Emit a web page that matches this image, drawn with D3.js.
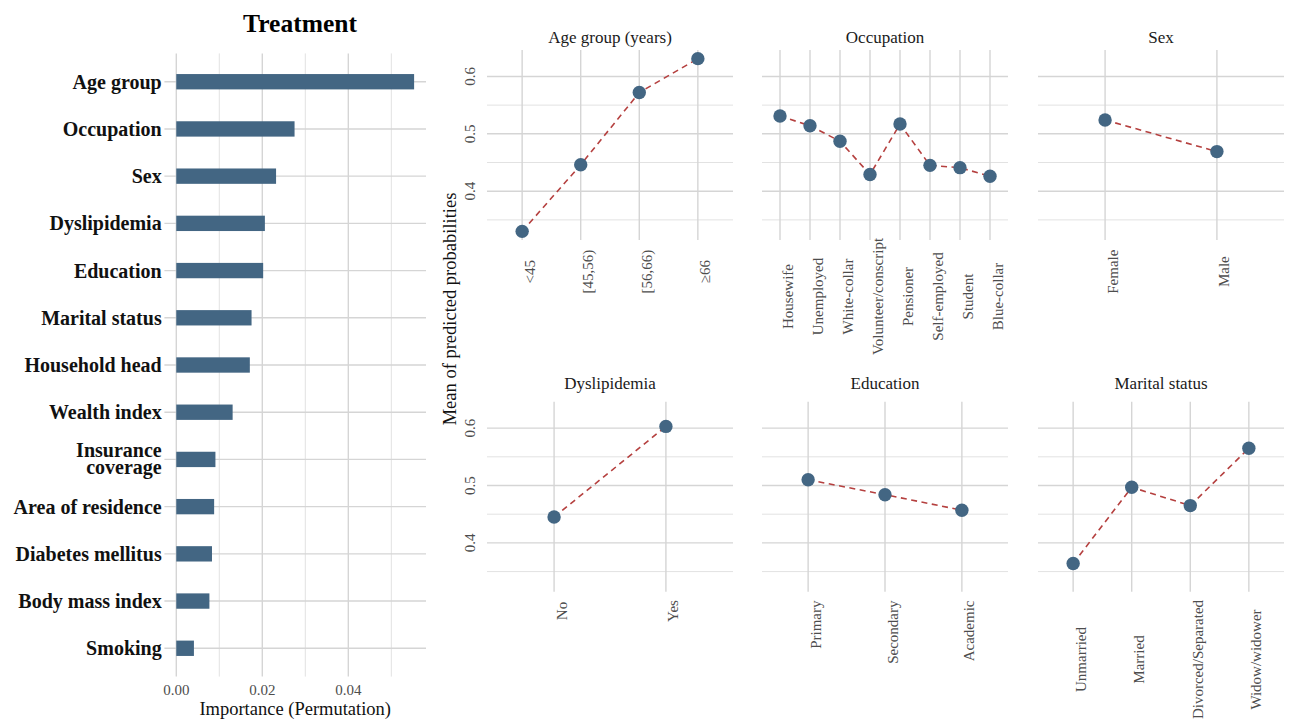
<!DOCTYPE html>
<html>
<head>
<meta charset="utf-8">
<script src="https://cdn.jsdelivr.net/npm/d3@7"></script>
<style>
  html, body { margin: 0; padding: 0; background: #ffffff; }
  svg { display: block; }
  text { font-family: "Liberation Serif", "Times New Roman", serif; }
</style>
</head>
<body>
<svg id="chart" width="1293" height="722"></svg>
<script>
// ---------- DATA ----------
const featureNames = ["Age group", "Occupation", "Sex", "Dyslipidemia", "Education", "Marital status",
  "Household head", "Wealth index", "Insurance coverage", "Area of residence", "Diabetes mellitus",
  "Body mass index", "Smoking"];
const featureImportance = [0.0553, 0.0275, 0.0232, 0.0206, 0.0202, 0.0175,
  0.0171, 0.0131, 0.0091, 0.0088, 0.0083, 0.0077, 0.0041];
const importanceTicks = [0.00, 0.02, 0.04];
const importanceMinorTicks = [0.01, 0.03, 0.05];

const ageCats = ["<45", "[45,56)", "[56,66)", "\u226566"];
const ageVals = [0.330, 0.446, 0.572, 0.631];
const occCats = ["Housewife", "Unemployed", "White-collar", "Volunteer/conscript", "Pensioner",
  "Self-employed", "Student", "Blue-collar"];
const occVals = [0.531, 0.514, 0.487, 0.429, 0.517, 0.445, 0.441, 0.426];
const sexCats = ["Female", "Male"];
const sexVals = [0.524, 0.469];
const dysCats = ["No", "Yes"];
const dysVals = [0.445, 0.603];
const eduCats = ["Primary", "Secondary", "Academic"];
const eduVals = [0.510, 0.484, 0.457];
const marCats = ["Unmarried", "Married", "Divorced/Separated", "Widow/widower"];
const marVals = [0.364, 0.497, 0.465, 0.565];
const probTicks = [0.4, 0.5, 0.6];
const probMinorTicks = [0.35, 0.45, 0.55, 0.65];

const panelTitles = ["Age group (years)", "Occupation", "Sex", "Dyslipidemia", "Education", "Marital status"];
const panelCats = [ageCats, occCats, sexCats, dysCats, eduCats, marCats];
const panelVals = [ageVals, occVals, sexVals, dysVals, eduVals, marVals];

// ---------- STYLE / LAYOUT ----------
const BLUE = "#436683";
const RED = "#b5403f";
const GRID_MAJ = "#d5d5d5";
const GRID_MIN = "#e2e2e2";
const TICK_COL = "#4d4d4d";

const svg = d3.select("#chart");
svg.append("rect").attr("width", 1293).attr("height", 722).attr("fill", "#fff");

// ===== Left: importance bar chart =====
const L = { left: 164.4, right: 426, top: 53.4, bottom: 676.6 };
const maxImp = d3.max(featureImportance);
const xImp = d3.scaleLinear()
  .domain([-0.05 * maxImp, 1.05 * maxImp])
  .range([L.left, L.right]);
const yFeat = d3.scalePoint()
  .domain(featureNames)
  .range([L.top, L.bottom])
  .padding(0.6);

const gL = svg.append("g");
gL.selectAll(".vmin").data(importanceMinorTicks.filter(t => t <= xImp.domain()[1])).enter()
  .append("line")
  .attr("x1", d => xImp(d)).attr("x2", d => xImp(d))
  .attr("y1", L.top).attr("y2", L.bottom)
  .attr("stroke", GRID_MIN).attr("stroke-width", 1);
gL.selectAll(".vmaj").data(importanceTicks).enter()
  .append("line")
  .attr("x1", d => xImp(d)).attr("x2", d => xImp(d))
  .attr("y1", L.top).attr("y2", L.bottom)
  .attr("stroke", GRID_MAJ).attr("stroke-width", 1.4);
gL.selectAll(".hmaj").data(featureNames).enter()
  .append("line")
  .attr("x1", L.left).attr("x2", L.right)
  .attr("y1", d => yFeat(d)).attr("y2", d => yFeat(d))
  .attr("stroke", GRID_MAJ).attr("stroke-width", 1.4);
const barH = yFeat.step() * 0.325;
gL.selectAll(".bar").data(featureNames).enter()
  .append("rect")
  .attr("x", xImp(0))
  .attr("y", d => yFeat(d) - barH / 2)
  .attr("width", (d, i) => xImp(featureImportance[i]) - xImp(0))
  .attr("height", barH)
  .attr("fill", BLUE);
featureNames.forEach(name => {
  const lines = name === "Insurance coverage" ? ["Insurance", "coverage"] : [name];
  const offsets = lines.length === 1 ? [7] : [-2.5, 15];
  lines.forEach((w, k) => {
    gL.append("text")
      .attr("x", 161.7)
      .attr("y", yFeat(name) + offsets[k])
      .attr("text-anchor", "end")
      .attr("font-size", "20px")
      .attr("font-weight", "bold")
      .attr("fill", "#111")
      .text(w);
  });
});
gL.selectAll(".xt").data(importanceTicks).enter()
  .append("text")
  .attr("x", d => xImp(d))
  .attr("y", 695)
  .attr("text-anchor", "middle")
  .attr("font-size", "15px")
  .attr("fill", TICK_COL)
  .text(d => d3.format(".2f")(d));
gL.append("text")
  .attr("x", (L.left + L.right) / 2)
  .attr("y", 715)
  .attr("text-anchor", "middle")
  .attr("font-size", "18.5px")
  .attr("fill", "#111")
  .text("Importance (Permutation)");
gL.append("text")
  .attr("x", 300)
  .attr("y", 32)
  .attr("text-anchor", "middle")
  .attr("font-size", "25.5px")
  .attr("font-weight", "bold")
  .attr("fill", "#000")
  .text("Treatment");

// ===== Right: faceted mean predicted probabilities =====
const colX = [487, 762, 1038];
const panelW = 246;
const rowY = [50, 401.7];
const panelH = 190;
const stripBaseline = [43, 389];
const labelPlace = [
  { anchor: "middle", y: 271.7 },
  { anchor: "middle", y: 296.5 },
  { anchor: "middle", y: 271.7 },
  { anchor: "middle", y: 611 },
  { anchor: "end", y: 600.5 },
  { anchor: "middle", y: 659.5 }
];

const allVals = panelVals.flat();
const vMin = d3.min(allVals), vMax = d3.max(allVals);
const vPad = 0.05 * (vMax - vMin);
const yDomain = [vMin - vPad, vMax + vPad];

panelTitles.forEach((title, pi) => {
  const row = Math.floor(pi / 3), col = pi % 3;
  const x0 = colX[col], y0 = rowY[row];
  const cats = panelCats[pi], vals = panelVals[pi];
  const xs = d3.scalePoint().domain(cats).range([x0, x0 + panelW]).padding(0.6);
  const ys = d3.scaleLinear().domain(yDomain).range([y0 + panelH, y0]);
  const g = svg.append("g");

  g.selectAll(".hmin").data(probMinorTicks.filter(t => t >= yDomain[0] && t <= yDomain[1])).enter()
    .append("line")
    .attr("x1", x0).attr("x2", x0 + panelW)
    .attr("y1", d => ys(d)).attr("y2", d => ys(d))
    .attr("stroke", GRID_MIN).attr("stroke-width", 1);
  g.selectAll(".hmaj").data(probTicks).enter()
    .append("line")
    .attr("x1", x0).attr("x2", x0 + panelW)
    .attr("y1", d => ys(d)).attr("y2", d => ys(d))
    .attr("stroke", GRID_MAJ).attr("stroke-width", 1.4);
  g.selectAll(".vmaj").data(cats).enter()
    .append("line")
    .attr("x1", d => xs(d)).attr("x2", d => xs(d))
    .attr("y1", y0).attr("y2", y0 + panelH)
    .attr("stroke", GRID_MAJ).attr("stroke-width", 1.4);

  const line = d3.line().x((d, i) => xs(cats[i])).y(d => ys(d));
  g.append("path")
    .attr("d", line(vals))
    .attr("fill", "none")
    .attr("stroke", RED)
    .attr("stroke-width", 1.6)
    .attr("stroke-dasharray", "6,4.5");
  g.selectAll(".pt").data(vals).enter()
    .append("circle")
    .attr("cx", (d, i) => xs(cats[i]))
    .attr("cy", d => ys(d))
    .attr("r", 6.7)
    .attr("fill", BLUE);

  g.append("text")
    .attr("x", x0 + panelW / 2)
    .attr("y", stripBaseline[row])
    .attr("text-anchor", "middle")
    .attr("font-size", "17px")
    .attr("fill", "#1a1a1a")
    .text(title);

  const lp = labelPlace[pi];
  cats.forEach(c => {
    g.append("text")
      .attr("transform", `translate(${xs(c)},${lp.y}) rotate(-90)`)
      .attr("text-anchor", lp.anchor)
      .attr("dy", "12.5px")
      .attr("font-size", "15px")
      .attr("fill", TICK_COL)
      .text(c);
  });

  if (col === 0) {
    probTicks.forEach(t => {
      g.append("text")
        .attr("transform", `translate(475,${ys(t)}) rotate(-90)`)
        .attr("text-anchor", "middle")
        .attr("font-size", "15px")
        .attr("fill", TICK_COL)
        .text(d3.format(".1f")(t));
    });
  }
});

svg.append("text")
  .attr("transform", `translate(455.5,309) rotate(-90)`)
  .attr("text-anchor", "middle")
  .attr("font-size", "18.5px")
  .attr("fill", "#111")
  .text("Mean of predicted probabilities");
</script>
</body>
</html>
